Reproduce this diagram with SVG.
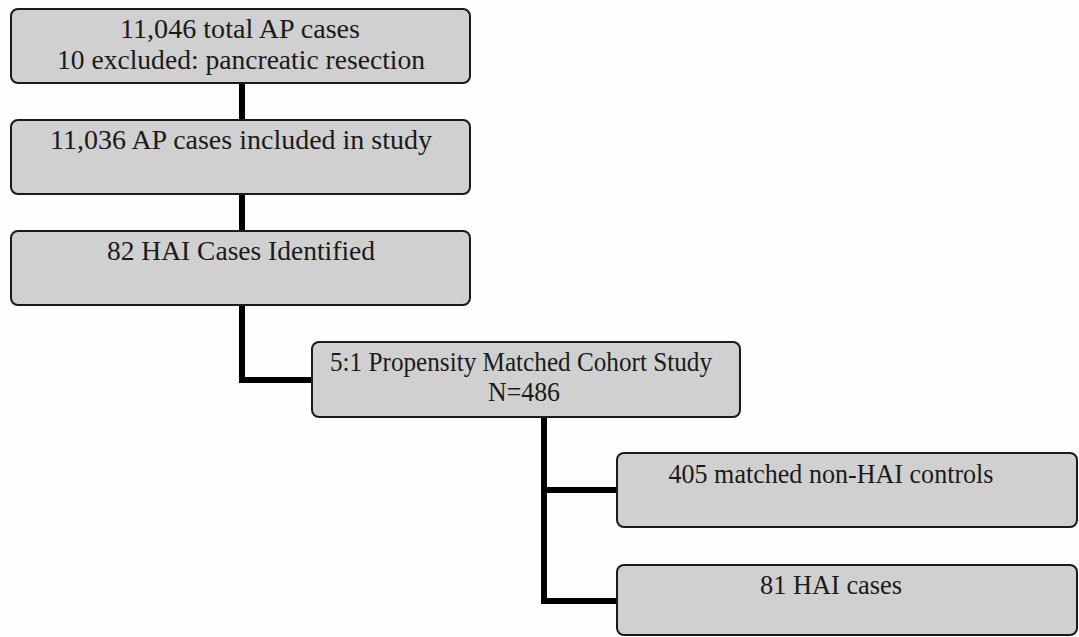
<svg xmlns="http://www.w3.org/2000/svg" width="1079" height="637" viewBox="0 0 1079 637">
<style>
.box{fill:#d0d0d0;stroke:#1a1a1a;stroke-width:2}
.lbl{font-family:"Liberation Serif","Times New Roman",serif;font-size:27px;fill:#1a1a1a;text-anchor:middle}
.con{fill:none;stroke:#000;stroke-width:6;stroke-linejoin:miter}
</style>
<rect width="1079" height="637" fill="#fdfdfd"/>
<g id="connectors">
<line class="con" x1="242" y1="83" x2="242" y2="121"/>
<line class="con" x1="242" y1="194" x2="242" y2="232"/>
<polyline class="con" points="242,305 242,380 313,380"/>
<polyline class="con" points="544,417 544,601 618,601"/>
<line class="con" x1="544" y1="490" x2="618" y2="490"/>
</g>
<g id="n1"><rect class="box" x="11" y="9" width="459" height="74" rx="7"/>
<text class="lbl" x="240" y="38" textLength="240" lengthAdjust="spacingAndGlyphs">11,046 total AP cases</text>
<text class="lbl" x="241" y="69" textLength="368" lengthAdjust="spacingAndGlyphs">10 excluded: pancreatic resection</text></g>
<g id="n2"><rect class="box" x="11" y="120" width="459" height="74" rx="7"/>
<text class="lbl" x="241" y="149" textLength="382" lengthAdjust="spacingAndGlyphs">11,036 AP cases included in study</text></g>
<g id="n3"><rect class="box" x="11" y="231" width="459" height="74" rx="7"/>
<text class="lbl" x="241" y="260" textLength="268" lengthAdjust="spacingAndGlyphs">82 HAI Cases Identified</text></g>
<g id="n4"><rect class="box" x="312" y="342" width="428" height="75" rx="7"/>
<text class="lbl" x="521" y="371" textLength="382" lengthAdjust="spacingAndGlyphs">5:1 Propensity Matched Cohort Study</text>
<text class="lbl" x="524" y="401" textLength="72" lengthAdjust="spacingAndGlyphs">N=486</text></g>
<g id="n5"><rect class="box" x="617" y="453" width="460" height="74" rx="7"/>
<text class="lbl" x="831" y="483" textLength="325" lengthAdjust="spacingAndGlyphs">405 matched non-HAI controls</text></g>
<g id="n6"><rect class="box" x="617" y="565" width="460" height="70" rx="7"/>
<text class="lbl" x="831" y="594" textLength="142" lengthAdjust="spacingAndGlyphs">81 HAI cases</text></g>
</svg>
